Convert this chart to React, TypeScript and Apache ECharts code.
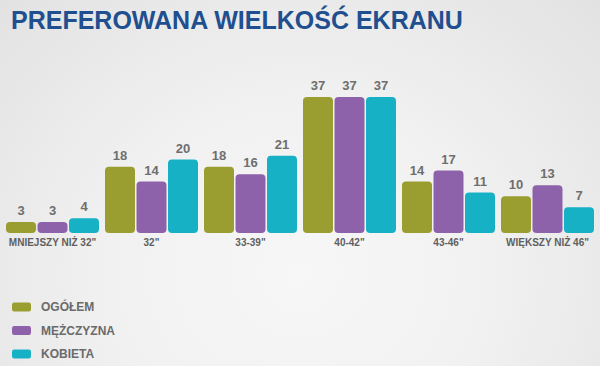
import React, { useEffect, useRef } from "react";
import * as echarts from "echarts";

const categories = ['MNIEJSZY NIŻ 32"', '32"', '33-39"', '40-42"', '43-46"', 'WIĘKSZY NIŻ 46"'];
const seriesNames = ["OGÓŁEM", "MĘŻCZYZNA", "KOBIETA"];
const ogolem = [3, 18, 18, 37, 14, 10];
const mezczyzna = [3, 14, 16, 37, 17, 13];
const kobieta = [4, 20, 21, 37, 11, 7];
const colors = ["#9a9d2f", "#8d62aa", "#17b1c6"];
const titleText = "PREFEROWANA WIELKOŚĆ EKRANU";

export default function App() {
  const ref = useRef<HTMLDivElement>(null);
  useEffect(() => {
    document.body.style.margin = "0";
    const chart = echarts.init(ref.current!, null, { renderer: "svg" });
    const font = "Liberation Sans";
    const mk = (name: string, data: number[], color: string) => ({
      name,
      type: "bar",
      data,
      barWidth: 30,
      barGap: "5%",
      itemStyle: { color, borderRadius: 4 },
      label: {
        show: true,
        position: "top",
        distance: 5,
        color: "#6e6e6e",
        fontFamily: font,
        fontWeight: "bold",
        fontSize: 13,
      },
    });
    chart.setOption({
      animation: false,
      title: {
        text: titleText,
        left: 6,
        top: 2,
        textStyle: { color: "#1f4f8f", fontFamily: font, fontWeight: "bold", fontSize: 25 },
      },
      legend: {
        orient: "vertical",
        left: 7,
        top: 296,
        itemWidth: 19,
        itemHeight: 9,
        itemGap: 11.5,
        icon: "roundRect",
        data: seriesNames,
        textStyle: {
          color: "#6a6a6a",
          fontFamily: font,
          fontWeight: "bold",
          fontSize: 12,
          padding: [0, 0, 0, 5],
        },
      },
      grid: { left: 3, right: 3, top: 86, bottom: 133, containLabel: false },
      xAxis: {
        type: "category",
        data: categories,
        axisLine: { show: false },
        axisTick: { show: false },
        axisLabel: {
          margin: 4,
          color: "#5f5f5f",
          fontFamily: font,
          fontWeight: "bold",
          fontSize: 10,
          interval: 0,
        },
      },
      yAxis: { type: "value", min: 0, max: 40, show: false, splitLine: { show: false } },
      series: [
        mk(seriesNames[0], ogolem, colors[0]),
        mk(seriesNames[1], mezczyzna, colors[1]),
        mk(seriesNames[2], kobieta, colors[2]),
      ],
    });
    return () => chart.dispose();
  }, []);
  return (
    <div
      ref={ref}
      style={{
        width: 600,
        height: 366,
        background: "radial-gradient(ellipse at 50% 75%, #f7f7f7 0%, #f1f1f1 45%, #e2e2e2 100%)",
      }}
    />
  );
}
